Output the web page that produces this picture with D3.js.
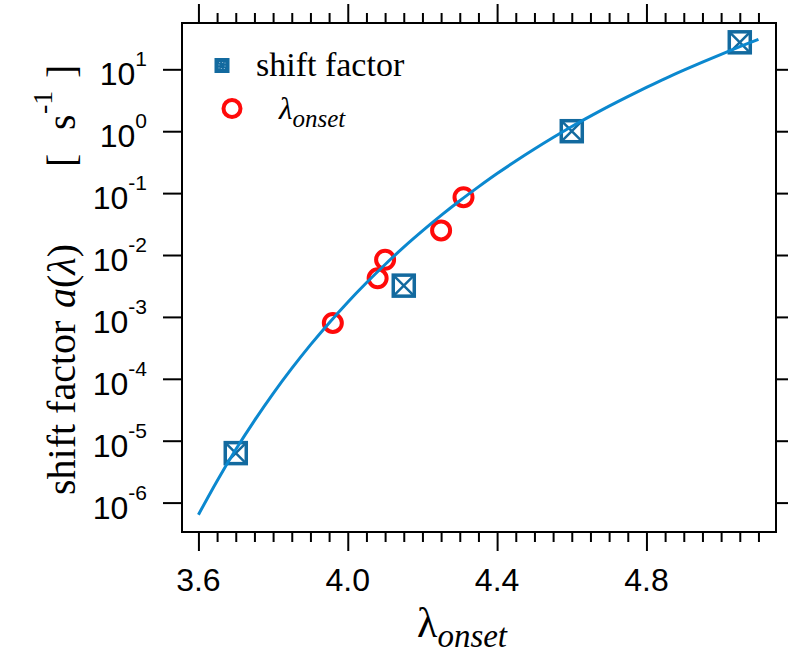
<!DOCTYPE html>
<html>
<head>
<meta charset="utf-8">
<script src="https://cdn.jsdelivr.net/npm/d3@7"></script>
<style>
  html, body { margin: 0; padding: 0; background: #fff; }
  svg { display: block; }
</style>
</head>
<body>
<svg id="chart" width="788" height="656"></svg>
<script>
// Measured shift factors a(λ) [1/s]
const shiftX = [3.70, 4.15, 4.60, 5.05];
const shiftY = [6.3e-6, 3.2e-3, 1.0, 27.3];

// Onset points λ_onset
const onsetX = [3.96, 4.08, 4.10, 4.25, 4.31];
const onsetY = [8.0e-4, 4.2e-3, 8.4e-3, 2.5e-2, 8.6e-2];

// Fitted curve through the data
const fitX = [3.60, 3.65, 3.70, 3.75, 3.80, 3.85, 3.90, 3.95, 4.00, 4.05, 4.10,
              4.15, 4.20, 4.25, 4.30, 4.35, 4.40, 4.45, 4.50, 4.55, 4.60, 4.65,
              4.70, 4.75, 4.80, 4.85, 4.90, 4.95, 5.00, 5.05, 5.10];
const fitY = [6.37e-7, 2.24e-6, 7.19e-6, 2.11e-5, 5.77e-5, 1.47e-4, 3.53e-4, 8.0e-4,
              1.73e-3, 3.56e-3, 7.03e-3, 1.34e-2, 2.45e-2, 4.36e-2, 7.52e-2, 0.126,
              0.207, 0.330, 0.515, 0.789, 1.19, 1.75, 2.54, 3.62, 5.09, 7.08, 9.68,
              13.1, 17.5, 23.2, 30.4];

// Axis ticks
const xMajor = [3.6, 4.0, 4.4, 4.8];
const xMajorLabels = ["3.6", "4.0", "4.4", "4.8"];
const xMinor = d3.range(0, 31).map(i => +(3.6 + i * 0.05).toFixed(2));
const yExponents = [1, 0, -1, -2, -3, -4, -5, -6];

const svg = d3.select("#chart");
const plotL = 182, plotR = 776, plotT = 23, plotB = 532;

const x = d3.scaleLinear().domain([3.556, 5.147]).range([plotL, plotR]);
const y = d3.scaleLog().domain([3.35e-7, 56]).range([plotB, plotT]);

const blue = "#136a9f";
const lineBlue = "#0b88cf";
const red = "#ff0a0a";
const sans = "'Liberation Sans', Arial, Helvetica, sans-serif";
const serif = "'Liberation Serif', 'Times New Roman', Times, serif";

// Axes: ticks drawn outward on all four sides
const minorX = xMinor.filter(v => !xMajor.some(m => Math.abs(m - v) < 1e-6));
const yTickVals = yExponents.map(e => Math.pow(10, e));

svg.append("g").attr("transform", `translate(0,${plotB})`)
  .call(d3.axisBottom(x).tickValues(xMajor).tickSize(19).tickFormat(""))
  .call(g => g.select(".domain").remove());
svg.append("g").attr("transform", `translate(0,${plotB})`)
  .call(d3.axisBottom(x).tickValues(minorX).tickSize(10).tickFormat(""))
  .call(g => g.select(".domain").remove());
svg.append("g").attr("transform", `translate(0,${plotT})`)
  .call(d3.axisTop(x).tickValues(xMajor).tickSize(19).tickFormat(""))
  .call(g => g.select(".domain").remove());
svg.append("g").attr("transform", `translate(0,${plotT})`)
  .call(d3.axisTop(x).tickValues(minorX).tickSize(10).tickFormat(""))
  .call(g => g.select(".domain").remove());
svg.append("g").attr("transform", `translate(${plotL},0)`)
  .call(d3.axisLeft(y).tickValues(yTickVals).tickSize(19).tickFormat(""))
  .call(g => g.select(".domain").remove());
svg.append("g").attr("transform", `translate(${plotR},0)`)
  .call(d3.axisRight(y).tickValues(yTickVals).tickSize(19).tickFormat(""))
  .call(g => g.select(".domain").remove());

svg.selectAll(".tick line").attr("stroke", "#000").attr("stroke-width", 2);

// Frame
svg.append("rect")
  .attr("x", plotL).attr("y", plotT)
  .attr("width", plotR - plotL).attr("height", plotB - plotT)
  .attr("fill", "none").attr("stroke", "#000").attr("stroke-width", 2);

// X tick labels
svg.append("g").selectAll("text").data(xMajor).join("text")
  .attr("x", d => x(d)).attr("y", 591)
  .attr("text-anchor", "middle")
  .attr("font-family", sans).attr("font-size", 32)
  .text((d, i) => xMajorLabels[i]);

// Y tick labels as powers of ten
const yl = svg.append("g").selectAll("text").data(yExponents).join("text")
  .attr("x", 147).attr("y", d => y(Math.pow(10, d)) + 16)
  .attr("text-anchor", "end")
  .attr("font-family", sans).attr("font-size", 32);
yl.append("tspan").text("10");
yl.append("tspan").attr("font-size", 21).attr("dy", -19).text(d => String(d));

// Shift-factor markers: open square with a cross
const sq = 21;
const shiftData = shiftX.map((v, i) => [v, shiftY[i]]);
const sg = svg.append("g").selectAll("g").data(shiftData).join("g")
  .attr("transform", d => `translate(${x(d[0])},${y(d[1])})`);
sg.append("rect")
  .attr("x", -sq / 2).attr("y", -sq / 2).attr("width", sq).attr("height", sq)
  .attr("fill", "#fff").attr("stroke", blue).attr("stroke-width", 3.5);
sg.append("path")
  .attr("d", `M${-sq / 2},${-sq / 2}L${sq / 2},${sq / 2}M${sq / 2},${-sq / 2}L${-sq / 2},${sq / 2}`)
  .attr("stroke", blue).attr("stroke-width", 2.5).attr("fill", "none");

// Onset markers: open red circles
const onsetData = onsetX.map((v, i) => [v, onsetY[i]]);
svg.append("g").selectAll("circle").data(onsetData).join("circle")
  .attr("cx", d => x(d[0])).attr("cy", d => y(d[1]))
  .attr("r", 9).attr("fill", "none").attr("stroke", red).attr("stroke-width", 4);

// Fitted curve on top of the markers
const fitData = fitX.map((v, i) => [v, fitY[i]]);
svg.append("path")
  .datum(fitData)
  .attr("fill", "none").attr("stroke", lineBlue).attr("stroke-width", 3)
  .attr("d", d3.line().x(d => x(d[0])).y(d => y(d[1])).curve(d3.curveCatmullRom));

// Legend
const lg = svg.append("g");
lg.append("rect").attr("x", 214.5).attr("y", 58).attr("width", 15).attr("height", 15)
  .attr("fill", blue);
lg.append("rect").attr("x", 219).attr("y", 62.5).attr("width", 6).attr("height", 6)
  .attr("fill", "none").attr("stroke", "#9cc3dc").attr("stroke-width", 0.8)
  .attr("stroke-dasharray", "1.2,1.8");
lg.append("text").attr("x", 256).attr("y", 76)
  .attr("font-family", serif).attr("font-size", 34).text("shift factor");
lg.append("circle").attr("cx", 232).attr("cy", 108.5).attr("r", 8.5)
  .attr("fill", "none").attr("stroke", red).attr("stroke-width", 4);
const lt = lg.append("text").attr("x", 279).attr("y", 119)
  .attr("font-family", serif).attr("font-style", "italic").attr("font-size", 31);
lt.append("tspan").text("λ");
lt.append("tspan").attr("font-size", 25).attr("dy", 8).text("onset");

// X axis title
const xt = svg.append("text").attr("x", 417).attr("y", 637)
  .attr("font-family", serif).attr("font-size", 42);
xt.append("tspan").text("λ");
xt.append("tspan").attr("font-style", "italic").attr("font-size", 33).attr("dy", 10).text("onset");

// Y axis title, set piece by piece along the rotated baseline
const yTitle = svg.append("g").attr("font-family", serif).attr("font-size", 40);
function vtext(yPos, xPos) {
  return yTitle.append("text")
    .attr("transform", `translate(${xPos},${yPos}) rotate(-90)`);
}
vtext(495, 75).text("shift factor");
const aPart = vtext(308, 75);
aPart.append("tspan").attr("font-style", "italic").text("a");
aPart.append("tspan").text("(");
aPart.append("tspan").attr("font-style", "italic").text("λ");
aPart.append("tspan").text(")");
vtext(167, 75).text("[");
vtext(130, 75).text("s");
vtext(114, 52).attr("font-size", 28).text("-1");
vtext(78, 75).text("]");
</script>
</body>
</html>
